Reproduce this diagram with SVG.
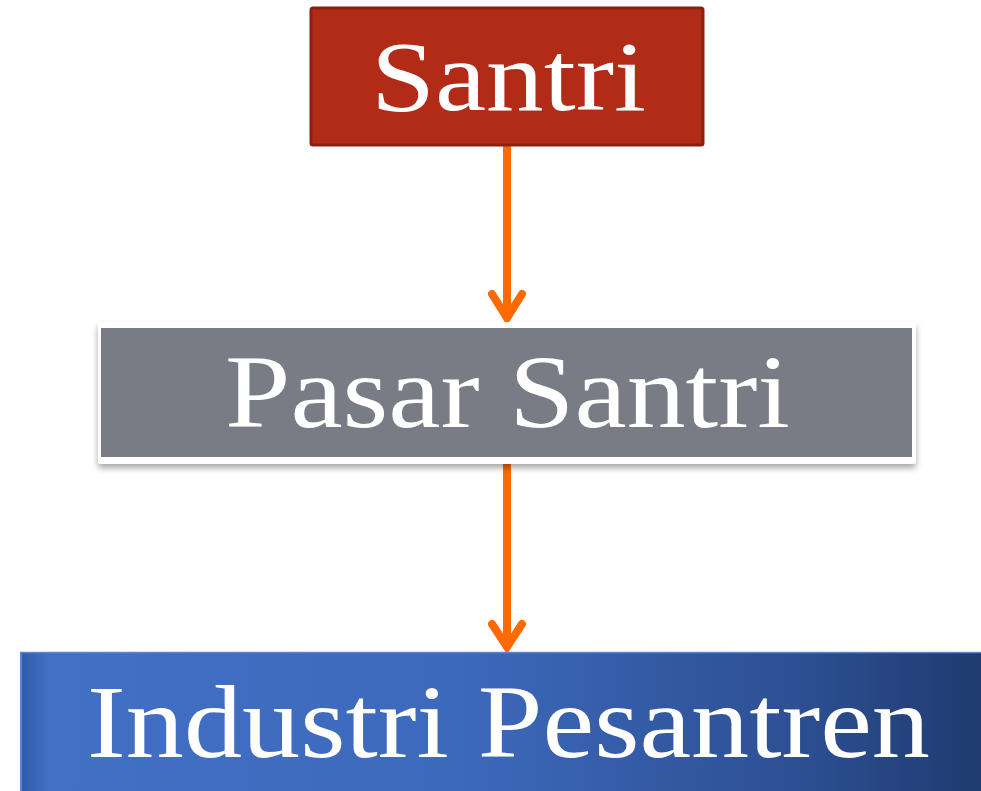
<svg xmlns="http://www.w3.org/2000/svg" width="981" height="791" viewBox="0 0 981 791">
<style>
.lbl{font-family:"Liberation Serif","DejaVu Serif",serif;fill:#ffffff;text-anchor:start}
.conn{stroke:#FF6A00;stroke-width:8;fill:none;stroke-linecap:round;stroke-linejoin:miter}
</style>
<defs>
<linearGradient id="blueG" x1="0" y1="0" x2="1" y2="0">
<stop offset="0" stop-color="#2F5AA8"/>
<stop offset="0.03" stop-color="#4270C4"/>
<stop offset="0.45" stop-color="#3D69BC"/>
<stop offset="0.8" stop-color="#2D4F93"/>
<stop offset="1" stop-color="#1E3A6E"/>
</linearGradient>
<filter id="sh" x="-5%" y="-10%" width="110%" height="130%">
<feDropShadow dx="0" dy="4" stdDeviation="3" flood-color="#000" flood-opacity="0.35"/>
</filter>
</defs>
<g id="connectors">
<line class="conn" x1="507" y1="146" x2="507" y2="316"/>
<polyline class="conn" points="492,294 507,318 522,294"/>
<line class="conn" x1="507" y1="462" x2="507" y2="645"/>
<polyline class="conn" points="492,624 507,647 522,624"/>
</g>
<g id="santri">
<rect x="311" y="8" width="392" height="137" rx="2" fill="#B22B17" stroke="#8A2010" stroke-width="3"/>
<text class="lbl" x="371" y="110" font-size="100" textLength="275" lengthAdjust="spacingAndGlyphs">Santri</text>
</g>
<g id="pasar-santri">
<rect x="98" y="322" width="818" height="142" rx="3" fill="#ffffff" filter="url(#sh)"/>
<rect x="101" y="328" width="811" height="129" fill="#797C85"/>
<text class="lbl" x="225" y="427" font-size="104" textLength="565" lengthAdjust="spacingAndGlyphs">Pasar Santri</text>
</g>
<g id="industri-pesantren">
<rect x="20" y="652" width="970" height="145" fill="url(#blueG)"/>
<line x1="20" y1="652.5" x2="981" y2="652.5" stroke="#5B86D6" stroke-width="1.5"/>
<line x1="21" y1="652" x2="21" y2="791" stroke="#5B86D6" stroke-width="2"/>
<text class="lbl" x="87" y="757" font-size="104" textLength="843" lengthAdjust="spacingAndGlyphs">Industri Pesantren</text>
</g>
</svg>
